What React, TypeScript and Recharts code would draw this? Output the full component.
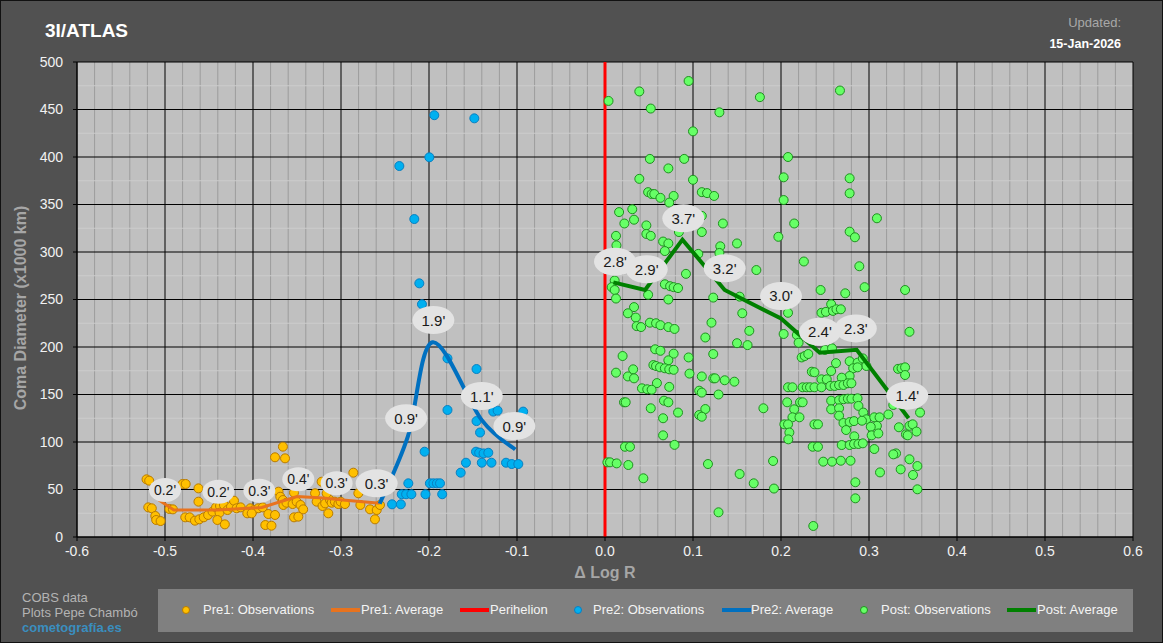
import React from "react";
import {
  ComposedChart,
  CartesianGrid,
  XAxis,
  YAxis,
  Scatter,
  Line,
  ReferenceLine,
} from "recharts";

// [log R offset, coma diameter in 1000 km]
const pre1Obs: [number, number][] = [
  [-0.521, 60.7], [-0.518, 59.3], [-0.519, 31.2], [-0.515, 30.2], [-0.511, 22.1],
  [-0.51, 17.9], [-0.505, 16.8], [-0.495, 29.5], [-0.491, 29.1], [-0.48, 55.8],
  [-0.4765, 55.8], [-0.462, 51.2], [-0.462, 37.2], [-0.477, 20.7], [-0.472, 20.7],
  [-0.466, 17.2], [-0.461, 18.6], [-0.456, 20.7], [-0.451, 23.2], [-0.446, 26.7],
  [-0.442, 31.2], [-0.4375, 32.6], [-0.438, 25.6], [-0.4405, 17.9], [-0.432, 13.3],
  [-0.433, 33.7], [-0.429, 28.4], [-0.425, 31.9], [-0.4216, 38.2], [-0.4186, 30.2],
  [-0.414, 31.2], [-0.403, 30.2], [-0.399, 28.4], [-0.394, 30.2], [-0.389, 31.2],
  [-0.4065, 24.9], [-0.4015, 24.9], [-0.386, 12.6], [-0.379, 11.9], [-0.3826, 24.2],
  [-0.375, 23.2], [-0.371, 47.7], [-0.369, 42.4], [-0.366, 38.9], [-0.3655, 33.7],
  [-0.362, 36.1], [-0.375, 83.9], [-0.3636, 82.8], [-0.366, 95.1], [-0.3534, 46.7],
  [-0.355, 34.7], [-0.3504, 37.2], [-0.346, 33.7], [-0.343, 29.1], [-0.3534, 20.7],
  [-0.3485, 21.4], [-0.3295, 46], [-0.3277, 37.2], [-0.322, 58.2], [-0.321, 32.6],
  [-0.318, 35.4], [-0.3144, 24.9], [-0.3125, 38.9], [-0.3106, 36.1], [-0.307, 37.2],
  [-0.303, 34.7], [-0.3004, 37.2], [-0.2955, 34.7], [-0.3163, 46], [-0.286, 67.7],
  [-0.2803, 46], [-0.278, 33.7], [-0.267, 29.1], [-0.2594, 28.4], [-0.2614, 18.6],
  [-0.2557, 33.7],
];

const pre1Avg: [number, number][] = [
  [-0.507, 39], [-0.49, 28.5], [-0.44, 28.5], [-0.39, 31], [-0.35, 42.5],
  [-0.32, 41], [-0.298, 39], [-0.256, 35.5],
];

const pre1Labels: [number, number, string][] = [
  [-0.5, 49.5, "0.2'"], [-0.4394, 47.7, "0.2'"], [-0.3928, 48.8, "0.3'"],
  [-0.3485, 60.7, "0.4'"], [-0.305, 56.5, "0.3'"],
];

const pre2Obs: [number, number][] = [
  [-0.194, 444], [-0.1485, 440.7], [-0.1996, 399.7], [-0.2337, 390.5], [-0.2167, 334.7],
  [-0.211, 267], [-0.208, 245], [-0.179, 188], [-0.146, 176.8], [-0.179, 133.7],
  [-0.127, 132], [-0.122, 133], [-0.093, 132], [-0.146, 122], [-0.142, 110],
  [-0.205, 89.8], [-0.1466, 89.8], [-0.143, 88.7], [-0.138, 88], [-0.1326, 88.7],
  [-0.158, 78.2], [-0.14, 78.2], [-0.129, 78.2], [-0.1125, 78.2], [-0.106, 76.8],
  [-0.0985, 76.8], [-0.164, 67.7], [-0.2235, 56.5], [-0.199, 56.5], [-0.195, 56.5],
  [-0.191, 56.5], [-0.1875, 56.5], [-0.231, 45], [-0.226, 45], [-0.22, 45],
  [-0.204, 45], [-0.185, 45], [-0.242, 34.4], [-0.232, 34.4],
];

const pre2Avg: [number, number][] = [
  [-0.256, 35], [-0.224, 106], [-0.196, 205], [-0.14, 123], [-0.102, 92],
];

const pre2Labels: [number, number, string][] = [
  [-0.2595, 56.5, "0.3'"], [-0.226, 125, "0.9'"], [-0.195, 228.4, "1.9'"],
  [-0.14, 148.4, "1.1'"], [-0.103, 116.8, "0.9'"],
];

const postObs: [number, number][] = [
  [0.004, 459], [0.039, 469], [0.095, 480], [0.176, 463], [0.052, 451], [0.13, 447],
  [0.1, 427], [0.051, 398], [0.09, 398], [0.072, 388], [0.039, 377], [0.1, 376],
  [0.049, 363], [0.053, 361], [0.056, 361], [0.063, 357], [0.078, 359], [0.073, 352],
  [0.11, 363], [0.116, 362], [0.124, 359], [0.016, 342], [0.031, 345], [0.033, 334],
  [0.022, 330], [0.047, 328], [0.134, 330], [0.11, 338], [0.0125, 317], [0.047, 319],
  [0.052, 317], [0.084, 321], [0.11, 321], [0.197, 316], [0.013, 307], [0.066, 311],
  [0.072, 309], [0.068, 301], [0.131, 306], [0.15, 309], [0.13, 299], [0.106, 298],
  [0.092, 277], [0.172, 281], [0.011, 270], [0.0076, 263], [0.011, 260], [0.068, 266],
  [0.074, 264], [0.078, 263], [0.083, 262], [0.049, 255], [0.0125, 251], [0.123, 252],
  [0.153, 253], [0.072, 250],
  [0.033, 242], [0.026, 235.5], [0.035, 231], [0.036, 222], [0.041, 221], [0.051, 225.6],
  [0.058, 225], [0.063, 223], [0.072, 221], [0.079, 219], [0.156, 235.5], [0.121, 225.6],
  [0.164, 217], [0.114, 210], [0.15, 204], [0.162, 202], [0.057, 197.6], [0.063, 196],
  [0.078, 193], [0.123, 192.6], [0.02, 190.5], [0.095, 189], [0.072, 186], [0.055, 181],
  [0.058, 180], [0.0625, 178.6], [0.068, 177.6], [0.073, 176.5], [0.078, 176], [0.032, 176.5],
  [0.0125, 173], [0.026, 169], [0.033, 167], [0.096, 172], [0.11, 169], [0.123, 167],
  [0.125, 167], [0.136, 165], [0.147, 163.5], [0.059, 162], [0.042, 156.5], [0.048, 155.5],
  [0.053, 155], [0.073, 158], [0.107, 154], [0.11, 152], [0.129, 150], [0.0216, 141.8],
  [0.0235, 141.8], [0.067, 143.5], [0.072, 141.8], [0.052, 135.5], [0.114, 134.7], [0.18, 135.5],
  [0.083, 131], [0.107, 128.4], [0.11, 126.6], [0.066, 125], [0.066, 107], [0.079, 97],
  [0.0227, 95], [0.0284, 95], [0.0027, 78.6], [0.0057, 78.6], [0.0133, 77.5], [0.0265, 75.8],
  [0.117, 76.8], [0.191, 80], [0.153, 66.3], [0.0436, 61.8], [0.169, 56.5], [0.192, 51],
  [0.129, 26],
  [0.267, 470], [0.208, 400], [0.203, 378.6], [0.278, 377.6], [0.278, 361.8], [0.203, 354.7],
  [0.309, 335.5], [0.215, 330], [0.278, 321.4], [0.284, 315.5], [0.226, 290], [0.289, 285],
  [0.245, 260], [0.273, 256.5], [0.295, 263], [0.341, 260],
  [0.208, 236], [0.203, 213.7], [0.218, 212.6], [0.22, 204.5], [0.246, 236], [0.251, 237],
  [0.257, 245], [0.259, 238], [0.263, 239.7], [0.268, 239.7], [0.25, 197], [0.258, 198.6],
  [0.346, 216], [0.2235, 189], [0.227, 190.5], [0.231, 192.6], [0.2625, 183], [0.278, 185],
  [0.287, 183.5], [0.293, 188], [0.297, 180], [0.282, 177.6], [0.287, 178.6], [0.235, 174],
  [0.238, 173.4], [0.257, 174.7], [0.278, 169.5], [0.269, 167.7], [0.246, 166], [0.252, 166],
  [0.333, 177], [0.337, 177.6], [0.341, 178.6], [0.341, 170.5], [0.208, 157.6], [0.213, 157.6],
  [0.2246, 157.6], [0.2292, 157.6], [0.233, 157.6], [0.238, 157.6], [0.246, 157.6], [0.256, 159],
  [0.261, 159], [0.266, 160], [0.271, 160], [0.276, 161.8], [0.28, 161.8], [0.207, 141.8],
  [0.2216, 141.8], [0.2246, 141.8], [0.215, 134.4], [0.257, 143.5], [0.266, 144], [0.271, 145],
  [0.276, 145.6], [0.28, 145.6], [0.287, 146], [0.257, 134.4], [0.266, 135.5], [0.288, 138],
  [0.358, 131], [0.3276, 139], [0.2935, 131], [0.266, 127.7], [0.322, 129], [0.213, 126],
  [0.221, 126], [0.297, 123.9], [0.306, 126], [0.312, 126], [0.309, 117], [0.2038, 118.6],
  [0.208, 118.6], [0.238, 118.6], [0.242, 118.6], [0.271, 120], [0.278, 121], [0.283, 122],
  [0.292, 122.4], [0.302, 116], [0.274, 112.6], [0.2095, 110], [0.334, 115.5], [0.346, 117],
  [0.3496, 118.6], [0.354, 111], [0.342, 108], [0.344, 107], [0.303, 107], [0.3106, 109],
  [0.2833, 106], [0.2083, 102.8], [0.269, 96.8], [0.278, 96.8], [0.283, 97.9], [0.288, 97.9],
  [0.293, 98.6], [0.236, 95], [0.242, 95], [0.306, 92.6], [0.248, 79.3], [0.258, 79.3],
  [0.268, 80.3], [0.279, 80.3], [0.3307, 88], [0.3276, 87], [0.346, 81.8], [0.355, 74.7],
  [0.336, 71.2], [0.3125, 68], [0.35, 65.3], [0.355, 50.2], [0.2845, 57.6], [0.2845, 40.7],
  [0.2367, 11.6],
];

const postAvg: [number, number][] = [
  [0.0095, 268], [0.0455, 260], [0.088, 313], [0.136, 260], [0.2, 230], [0.244, 194],
  [0.286, 197], [0.345, 125],
];

const postLabels: [number, number, string][] = [
  [0.0114, 289.8, "2.8'"], [0.0474, 281.8, "2.9'"], [0.089, 335.5, "3.7'"],
  [0.136, 282.8, "3.2'"], [0.2, 253.7, "3.0'"], [0.2443, 216, "2.4'"],
  [0.285, 219.6, "2.3'"], [0.3435, 148.8, "1.4'"],
];

const xTicks = [-0.6, -0.5, -0.4, -0.3, -0.2, -0.1, 0, 0.1, 0.2, 0.3, 0.4, 0.5, 0.6];
const yTicks = [0, 50, 100, 150, 200, 250, 300, 350, 400, 450, 500];

const minorX: number[] = [];
for (let i = -30; i <= 30; i++) if (i % 5 !== 0) minorX.push(i / 50);
const minorY: number[] = [];
for (let v = 25; v < 500; v += 50) minorY.push(v);

const FONT = "'Liberation Sans', Arial, sans-serif";

const pts = (a: [number, number][]) => a.map(([x, y]) => ({ x, y }));
const lbls = (a: [number, number, string][]) => a.map(([x, y, t]) => ({ x, y, t }));

// Excel-like smoothed line (Catmull-Rom as cubic bezier), d3 curve interface
function smoothCurve(context: any) {
  let p: number[][] = [];
  return {
    areaStart() {},
    areaEnd() {},
    lineStart() { p = []; },
    point(x: number, y: number) { p.push([+x, +y]); },
    lineEnd() {
      if (!p.length) return;
      context.moveTo(p[0][0], p[0][1]);
      for (let i = 0; i < p.length - 1; i++) {
        const p0 = p[i - 1] || p[i];
        const p1 = p[i];
        const p2 = p[i + 1];
        const p3 = p[i + 2] || p2;
        context.bezierCurveTo(
          p1[0] + (p2[0] - p0[0]) / 6, p1[1] + (p2[1] - p0[1]) / 6,
          p2[0] - (p3[0] - p1[0]) / 6, p2[1] - (p3[1] - p1[1]) / 6,
          p2[0], p2[1],
        );
      }
    },
  };
}

const dot = (fill: string, stroke: string) => (p: any) =>
  <circle cx={p.cx} cy={p.cy} r={4.5} fill={fill} stroke={stroke} strokeWidth={1} />;

const bubble = (rx: number, ry: number, fs: number) => (p: any) => (
  <g>
    <ellipse cx={p.cx} cy={p.cy} rx={rx} ry={ry} fill="#e3e3e3" />
    <text x={p.cx} y={p.cy} textAnchor="middle" dominantBaseline="central"
      fontSize={fs} fontFamily={FONT} fill="#1a1a1a">{p.payload.t}</text>
  </g>
);

function Txt({ x, y, fs, color, bold, align, children }: any) {
  const style: React.CSSProperties = {
    position: "absolute",
    top: y - 0.92 * fs,
    fontSize: fs,
    lineHeight: `${fs * 1.15}px`,
    fontFamily: FONT,
    fontWeight: bold ? "bold" : "normal",
    color,
    whiteSpace: "nowrap",
  };
  if (align === "right") style.right = 1163 - x;
  else style.left = x;
  return <div style={style}>{children}</div>;
}

function LegendLine({ x, color }: { x: number; color: string }) {
  return <div style={{ position: "absolute", left: x, top: 608, width: 29, height: 4, background: color }} />;
}
function LegendDot({ x, fill, stroke }: { x: number; fill: string; stroke: string }) {
  return (
    <div style={{
      position: "absolute", left: x - 4, top: 606, width: 8, height: 8, borderRadius: "50%",
      background: fill, border: `1px solid ${stroke}`, boxSizing: "border-box",
    }} />
  );
}

export default function App() {
  return (
    <div style={{ position: "relative", width: 1163, height: 643, background: "#515151", fontFamily: FONT }}>
      <style>{"body{margin:0}"}</style>
      <ComposedChart width={1163} height={643} margin={{ top: 62, right: 30, bottom: 0, left: 0 }}>
        <CartesianGrid fill="#c0c0c0" fillOpacity={1} horizontal={false} verticalValues={minorX} stroke="#9c9c9c" />
        <CartesianGrid vertical={false} horizontalValues={minorY} stroke="#cccccc" />
        <CartesianGrid stroke="#000000" verticalValues={xTicks} horizontalValues={yTicks} />
        <XAxis
          type="number" dataKey="x" domain={[-0.6, 0.6]} ticks={xTicks} height={106}
          tickFormatter={(v: number) => v.toFixed(1)} interval={0}
          tick={{ fill: "#f2f2f2", fontSize: 14, fontFamily: FONT }}
          tickSize={4} tickMargin={5}
          axisLine={{ stroke: "#000" }} tickLine={{ stroke: "#000" }}
        />
        <YAxis
          type="number" dataKey="y" domain={[0, 500]} ticks={yTicks} width={77} interval={0}
          tick={{ fill: "#f2f2f2", fontSize: 14, fontFamily: FONT }}
          tickSize={4} tickMargin={10}
          axisLine={{ stroke: "#000" }} tickLine={{ stroke: "#000" }}
        />
        <ReferenceLine x={0} stroke="#ff0000" strokeWidth={3} zIndex={-50} />
        <Scatter data={pts(pre1Obs)} shape={dot("#ffc000", "#b87a00")} isAnimationActive={false} zIndex={600} />
        <Line data={pts(pre1Avg)} dataKey="y" type="linear" stroke="#e8731e" strokeWidth={3} dot={false} isAnimationActive={false} zIndex={601} />
        <Scatter data={pts(pre2Obs)} shape={dot("#00b0f0", "#0a7fc0")} isAnimationActive={false} zIndex={602} />
        <Line data={pts(pre2Avg)} dataKey="y" type={smoothCurve as any} stroke="#0070c0" strokeWidth={4} dot={false} isAnimationActive={false} zIndex={603} />
        <Scatter data={pts(postObs)} shape={dot("#66ff66", "#1f8f1f")} isAnimationActive={false} zIndex={604} />
        <Line data={pts(postAvg)} dataKey="y" type="linear" stroke="#008000" strokeWidth={4} dot={false} isAnimationActive={false} zIndex={605} />
        <Scatter data={lbls(pre1Labels)} shape={bubble(16, 12, 14)} isAnimationActive={false} zIndex={700} />
        <Scatter data={lbls(pre2Labels)} shape={bubble(21, 14, 15)} isAnimationActive={false} zIndex={701} />
        <Scatter data={lbls(postLabels)} shape={bubble(21, 14, 15)} isAnimationActive={false} zIndex={702} />
      </ComposedChart>

      <Txt x={45} y={37} fs={19} color="#ffffff" bold>3I/ATLAS</Txt>
      <Txt x={1121} y={28} fs={13} color="#a8a8a8" align="right">Updated:</Txt>
      <Txt x={1121} y={48} fs={12.5} color="#ffffff" bold align="right">15-Jan-2026</Txt>

      <div style={{ position: "absolute", left: 21, top: 308, width: 0, height: 0 }}>
        <div style={{
          position: "absolute", left: 0, top: 0, transform: "translate(-50%,-50%) rotate(-90deg)",
          fontSize: 16, fontWeight: "bold", color: "#a6a6a6", whiteSpace: "nowrap", fontFamily: FONT,
        }}>Coma Diameter (x1000 km)</div>
      </div>
      <div style={{ position: "absolute", left: 605, top: 573, width: 0, height: 0 }}>
        <div style={{
          position: "absolute", left: 0, top: 0, transform: "translate(-50%,-50%)",
          fontSize: 16, fontWeight: "bold", color: "#a6a6a6", whiteSpace: "nowrap", fontFamily: FONT,
        }}>Δ Log R</div>
      </div>

      <Txt x={22} y={603} fs={13} color="#b4b4b4">COBS data</Txt>
      <Txt x={22} y={618} fs={13} color="#b4b4b4">Plots Pepe Chambó</Txt>
      <Txt x={22} y={633} fs={13} color="#3a8ebf" bold>cometografía.es</Txt>

      <div style={{ position: "absolute", left: 158, top: 589, width: 975, height: 43, background: "#808080" }} />
      <LegendDot x={186} fill="#ffc000" stroke="#b87a00" />
      <Txt x={203} y={615} fs={13} color="#f4f4f4">Pre1: Observations</Txt>
      <LegendLine x={331} color="#e8731e" />
      <Txt x={361} y={615} fs={13} color="#f4f4f4">Pre1: Average</Txt>
      <LegendLine x={460} color="#ff0000" />
      <Txt x={490} y={615} fs={13} color="#f4f4f4">Perihelion</Txt>
      <LegendDot x={578} fill="#00b0f0" stroke="#0a7fc0" />
      <Txt x={593} y={615} fs={13} color="#f4f4f4">Pre2: Observations</Txt>
      <LegendLine x={722} color="#0070c0" />
      <Txt x={751} y={615} fs={13} color="#f4f4f4">Pre2: Average</Txt>
      <LegendDot x={864} fill="#66ff66" stroke="#1f8f1f" />
      <Txt x={881} y={615} fs={13} color="#f4f4f4">Post: Observations</Txt>
      <LegendLine x={1007} color="#008000" />
      <Txt x={1037} y={615} fs={13} color="#f4f4f4">Post: Average</Txt>

      <div style={{ position: "absolute", inset: 0, border: "1px solid #111", pointerEvents: "none" }} />
    </div>
  );
}
